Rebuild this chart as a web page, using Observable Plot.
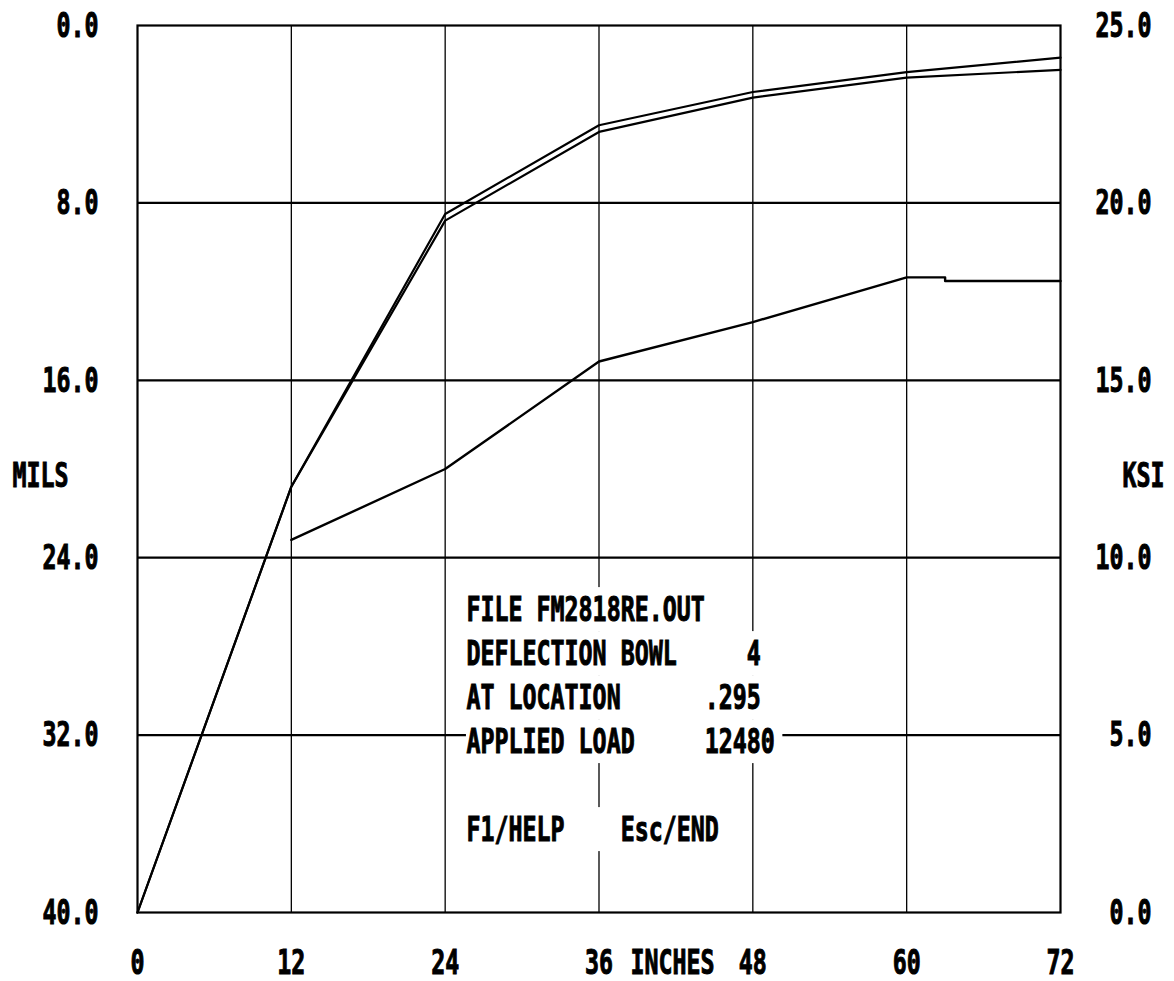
<!DOCTYPE html>
<html>
<head>
<meta charset="utf-8">
<script src="https://cdn.jsdelivr.net/npm/d3@7"></script>
<script src="https://cdn.jsdelivr.net/npm/@observablehq/plot@0.6"></script>
<style>
  html, body { margin: 0; padding: 0; background: #fff; }
  svg text { font-family: "DejaVu Sans Mono", monospace; font-weight: bold; white-space: pre; }
</style>
</head>
<body>
<div id="chart"></div>
<script>
// ---- data ----
const xTicks = [0, 12, 24, 36, 48, 60, 72];
const gridX = [12, 24, 36, 48, 60];
const milsTicks = [0, 8, 16, 24, 32, 40];
const gridY = [8, 16, 24, 32];
const ksiTickLabels = ["25.0", "20.0", "15.0", "10.0", "5.0", "0.0"];

const stations = [0, 12, 24, 36, 48, 60, 72];          // inches
const deflectionA = [40, 20.8, 8.5, 4.5, 3.0, 2.1, 1.45]; // mils (top = 0)
const deflectionB = [40, 20.8, 8.8, 4.8, 3.25, 2.35, 2.0];

const stressX = [12, 24, 36, 48, 60, 63, 63, 72];         // inches
const stressKsi = [10.5, 12.5, 15.53, 16.64, 17.9, 17.9, 17.8, 17.8]; // KSI

const infoLines = [
  "FILE FM2818RE.OUT",
  "DEFLECTION BOWL     4",
  "AT LOCATION      .295",
  "APPLIED LOAD     12480",
  "",
  "F1/HELP    Esc/END"
];

// ---- layout constants ----
const W = 1174, H = 981;
const mL = 137, mR = W - 1060, mT = 25, mB = H - 912;
const charPx = 14;
const xPerPx = 72 / (W - mL - mR);
const yPerPx = 40 / (H - mT - mB);
const boxX = 25.66;        // inches, left edge of info text
const boxY0 = 26.34;       // mils, centre of first info line
const lineStep = 44 * yPerPx;
const fs = 23.3;           // gives a 14px monospace cell
const stretch = 1.45;      // tall DOS-style lettering

const ksiToMils = k => (25 - k) * 40 / 25;

const lineA = stations.map((x, i) => ({x, y: deflectionA[i]}));
const lineB = stations.map((x, i) => ({x, y: deflectionB[i]}));
const lineC = stressX.map((x, i) => ({x, y: ksiToMils(stressKsi[i])}));
const info = infoLines.map((t, i) => ({t, i})).filter(d => d.t.length > 0);

const plot = Plot.plot({
  width: W,
  height: H,
  marginLeft: mL,
  marginRight: mR,
  marginTop: mT,
  marginBottom: mB,
  style: {fontFamily: "DejaVu Sans Mono", fontSize: fs + "px", background: "#fff", color: "#000"},
  x: {domain: [0, 72]},
  y: {domain: [0, 40], reverse: true},
  marks: [
    Plot.ruleX(gridX, {stroke: "#000", strokeWidth: 1.3}),
    Plot.ruleY(gridY, {stroke: "#000", strokeWidth: 2.2}),
    Plot.frame({stroke: "#000", strokeWidth: 2.2}),
    Plot.rect(info, {
      x1: () => boxX,
      x2: d => boxX + (d.t.length + 0.6) * charPx * xPerPx,
      y1: d => boxY0 + d.i * lineStep - lineStep / 2,
      y2: d => boxY0 + d.i * lineStep + lineStep / 2,
      fill: "#fff"
    }),
    Plot.line(lineC, {x: "x", y: "y", stroke: "#000", strokeWidth: 2.4}),
    Plot.line(lineB, {x: "x", y: "y", stroke: "#000", strokeWidth: 2.2}),
    Plot.line(lineA, {x: "x", y: "y", stroke: "#000", strokeWidth: 2.2}),
    Plot.axisX(xTicks, {anchor: "bottom", tickSize: 0, tickPadding: 41, fontSize: fs, label: null, tickFormat: d => String(d)}),
    Plot.axisY(milsTicks, {anchor: "left", tickSize: 0, tickPadding: 39, fontSize: fs, label: null, tickFormat: d3.format(".1f")}),
    Plot.axisY(milsTicks, {anchor: "right", tickSize: 0, tickPadding: 91, textAnchor: "end", fontSize: fs, label: null,
      tickFormat: d => ksiTickLabels[milsTicks.indexOf(d)]}),
    Plot.text(["INCHES"], {x: 41.73, frameAnchor: "bottom", lineAnchor: "top", dy: 41, text: d => d, fontSize: fs}),
    Plot.text(["MILS"], {y: 20.3, frameAnchor: "left", dx: -125, textAnchor: "start", text: d => d, fontSize: fs}),
    Plot.text(["KSI"], {y: 20.3, frameAnchor: "right", dx: 62, textAnchor: "start", text: d => d, fontSize: fs}),
    Plot.text(info, {
      x: () => boxX,
      y: d => boxY0 + d.i * lineStep,
      text: "t",
      textAnchor: "start",
      fontSize: fs
    })
  ]
});

document.getElementById("chart").appendChild(plot);

// tall, heavy DOS-like lettering: stretch each text vertically about its own centre
plot.querySelectorAll("text").forEach(t => {
  const s = t.textContent;
  if (!s) return;
  t.setAttributeNS("http://www.w3.org/XML/1998/namespace", "xml:space", "preserve");
  t.setAttribute("font-weight", "bold");
  t.setAttribute("stroke", "#000");
  t.setAttribute("stroke-width", "0.7");
  const b = t.getBBox();
  const cy = b.y + b.height / 2;
  const prev = t.getAttribute("transform") || "";
  t.setAttribute("transform", `${prev} translate(0,${cy}) scale(1,${stretch}) translate(0,${-cy})`.trim());
});
</script>
</body>
</html>
